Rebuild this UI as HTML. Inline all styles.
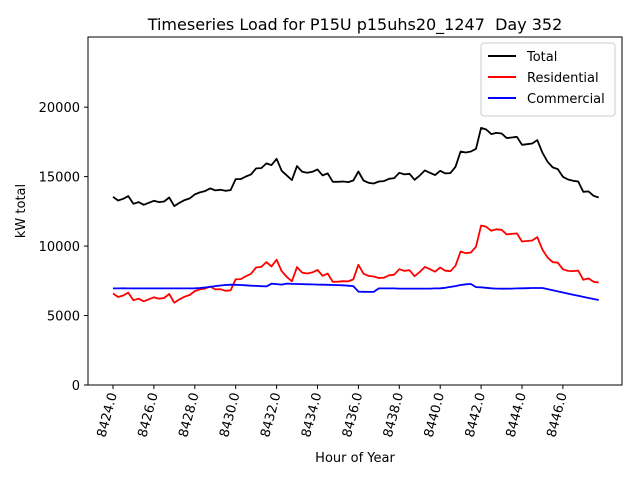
<!DOCTYPE html>
<html><head><meta charset="utf-8"><style>
html,body{margin:0;padding:0;background:#fff;}
svg{display:block;font-family:"DejaVu Sans","Liberation Sans",sans-serif;}
</style></head><body>
<svg id="chart" width="640" height="480" viewBox="0 0 640 480">
<rect x="0" y="0" width="640" height="480" fill="#fff"/>
<text x="355" y="30" font-size="16" text-anchor="middle" style="white-space:pre">Timeseries Load for P15U p15uhs20_1247 &#160;Day 352</text>
<text transform="translate(25,211) rotate(-90)" font-size="13" text-anchor="middle">kW total</text>
<text x="355" y="462" font-size="13" text-anchor="middle">Hour of Year</text>
<g id="series"></g>
<g id="axes"></g>
<rect x="88" y="37" width="534" height="348" fill="none" stroke="#000" stroke-width="1"/>
<g>
<rect x="481" y="43" width="134" height="73" rx="3" fill="#fff" stroke="#ccc"/>
<line x1="488" y1="56" x2="516" y2="56" stroke="#000" stroke-width="2"/>
<text x="527" y="61" font-size="13">Total</text>
<line x1="488" y1="77" x2="516" y2="77" stroke="#f00" stroke-width="2"/>
<text x="527" y="82" font-size="13">Residential</text>
<line x1="488" y1="98" x2="516" y2="98" stroke="#00f" stroke-width="2"/>
<text x="527" y="103" font-size="13">Commercial</text>
</g>
</svg>
<script>
const startHour = 8424;
const stepHours = 0.25;
const xTicks = [8424,8426,8428,8430,8432,8434,8436,8438,8440,8442,8444,8446];
const xTickLabels = ["8424.0","8426.0","8428.0","8430.0","8432.0","8434.0","8436.0","8438.0","8440.0","8442.0","8444.0","8446.0"];
const yTicks = [0,5000,10000,15000,20000];
const yTickLabels = ["0","5000","10000","15000","20000"];
const total = [13545,13284,13404,13597,13044,13165,12972,13116,13260,13165,13212,13500,12877,13116,13309,13429,13717,13861,13957,14149,14005,14053,13981,14029,14820,14820,15012,15156,15588,15612,15948,15827,16283,15419,15084,14748,15756,15347,15275,15347,15516,15084,15228,14628,14628,14652,14604,14724,15371,14724,14556,14508,14652,14676,14844,14892,15275,15156,15204,14772,15084,15444,15275,15108,15419,15228,15252,15708,16811,16739,16811,17002,18510,18390,18057,18150,18105,17770,17818,17866,17288,17336,17385,17625,16716,16068,15660,15540,14988,14796,14700,14652,13909,13933,13621,13500];
const commercial = [6950,6950,6960,6950,6950,6950,6950,6950,6950,6950,6950,6950,6950,6950,6950,6950,6960,6980,7020,7060,7120,7160,7200,7220,7210,7200,7180,7150,7130,7110,7100,7290,7260,7230,7300,7280,7270,7260,7250,7240,7230,7220,7210,7200,7190,7180,7150,7120,6720,6710,6700,6700,6950,6950,6950,6950,6940,6940,6940,6940,6940,6940,6940,6950,6960,7000,7060,7120,7200,7250,7270,7050,7030,7000,6960,6940,6930,6930,6940,6950,6960,6970,6980,6980,6980,6900,6820,6740,6660,6580,6500,6420,6340,6260,6190,6120];
const residential = total.map((t,i)=>t-commercial[i]);

const NS="http://www.w3.org/2000/svg";
function xs(h){return 113+(h-8424)*20.45;}
function ys(v){return 385-v*(348/25050);}
const axes=document.getElementById('axes');
const series=document.getElementById('series');
xTicks.forEach((h,i)=>{
  const l=document.createElementNS(NS,'line');
  l.setAttribute('x1',xs(h));l.setAttribute('x2',xs(h));l.setAttribute('y1',385);l.setAttribute('y2',389);
  l.setAttribute('stroke','#000');
  
  
  axes.appendChild(l);
  const t=document.createElementNS(NS,'text');
  t.setAttribute('transform','translate('+(xs(h)+4)+',394) rotate(-75)');
  t.setAttribute('text-anchor','end');t.setAttribute('font-size','13');
  t.textContent=xTickLabels[i];
  
  
  axes.appendChild(t);
});
yTicks.forEach((v,i)=>{
  const l=document.createElementNS(NS,'line');
  l.setAttribute('x1',84);l.setAttribute('x2',88);l.setAttribute('y1',ys(v));l.setAttribute('y2',ys(v));
  l.setAttribute('stroke','#000');
  
  
  axes.appendChild(l);
  const t=document.createElementNS(NS,'text');
  t.setAttribute('x',80);t.setAttribute('y',ys(v)+5);
  t.setAttribute('text-anchor','end');t.setAttribute('font-size','13');
  t.textContent=yTickLabels[i];
  
  
  axes.appendChild(t);
});
function drawLine(arr,color,name){
  const p=document.createElementNS(NS,'polyline');
  p.setAttribute('points',arr.map((v,i)=>xs(startHour+i*stepHours).toFixed(1)+','+ys(v).toFixed(1)).join(' '));
  p.setAttribute('fill','none');p.setAttribute('stroke',color);p.setAttribute('stroke-width','1.8');
  p.setAttribute('stroke-linejoin','round');
  
  
  series.appendChild(p);
}
drawLine(total,'#000','total-line');
drawLine(residential,'#f00','residential-line');
drawLine(commercial,'#00f','commercial-line');
</script>
</body></html>
